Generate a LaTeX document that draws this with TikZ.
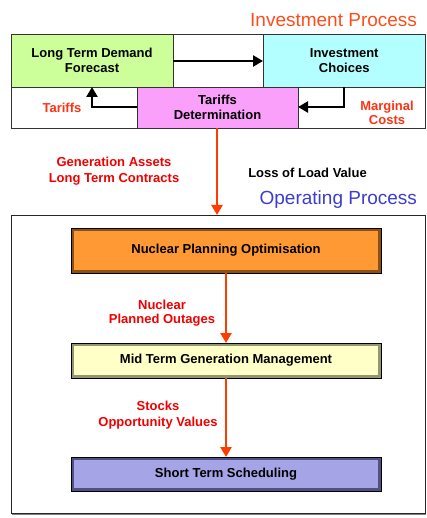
\documentclass[tikz,border=0pt]{standalone}
\usepackage{fontspec}
\setmainfont{Liberation Sans}
\usetikzlibrary{arrows.meta,calc}
\definecolor{cgreen}{RGB}{204,255,153}
\definecolor{ccyan}{RGB}{179,255,255}
\definecolor{cpink}{RGB}{250,160,250}
\definecolor{corange}{RGB}{255,153,51}
\definecolor{corangedk}{RGB}{140,80,20}
\definecolor{cyellow}{RGB}{255,255,200}
\definecolor{cyellowdk}{RGB}{150,150,110}
\definecolor{clav}{RGB}{164,164,230}
\definecolor{clavdk}{RGB}{80,80,130}
\definecolor{ctitle}{RGB}{255,77,26}
\definecolor{clabel}{RGB}{255,50,20}
\definecolor{cblue}{RGB}{60,60,210}
\definecolor{carrow}{RGB}{255,60,0}
\tikzset{
  x=1pt, y=-1pt,
  every node/.style={inner sep=0pt, outer sep=0pt},
  boldtxt/.style={font=\fontsize{13}{15}\selectfont\bfseries, align=center},
  topbox/.style={boldtxt, draw=black!80, line width=0.8pt, anchor=north west},
  opbox/.style 2 args={boldtxt, anchor=north west, minimum width=310pt, fill=#2, draw=black, line width=0.8pt,
    path picture={\fill[#1] ([shift={(2.5,2.5)}]path picture bounding box.north west) rectangle ([shift={(-2.5,-2.5)}]path picture bounding box.south east);
                  \draw[#2, line width=0.6pt] ([shift={(2.5,2.5)}]path picture bounding box.north west) rectangle ([shift={(-2.5,-2.5)}]path picture bounding box.south east);}},
  blackarrow/.style={draw=black, line width=2.6pt, -{Triangle[width=11pt,length=10pt]}},
  redarrow/.style={draw=carrow, line width=2.6pt, -{Triangle[width=11pt,length=10pt]}},
  redlabel/.style={boldtxt, text=clabel},
  title/.style={font=\fontsize{19}{22}\selectfont, anchor=east}
}
\begin{document}
\begin{tikzpicture}
\useasboundingbox (0,0) rectangle (427,518);
% Investment process frame
\node[draw=black!80, line width=0.8pt, anchor=north west, minimum width=414.5pt, minimum height=94pt] (invframe) at (11,34) {};
\node[topbox, fill=cgreen, minimum width=162pt, minimum height=53pt] (ltdf) at (11,34) {Long Term Demand\\Forecast};
\node[topbox, fill=ccyan, minimum width=162.5pt, minimum height=53pt] (ic) at (263,34) {Investment\\Choices};
\node[topbox, fill=cpink, minimum width=161pt, minimum height=41pt] (td) at (137,87) {Tariffs\\Determination};
\node[title, text=ctitle] (invtitle) at (417,20) {Investment Process};

\draw[blackarrow] (ltdf.east |- 0,61) -- (ic.west |- 0,61);
\coordinate (tcorner) at (92,107);
\draw[blackarrow] (td.west |- tcorner) -- (tcorner) -- (tcorner |- ltdf.south);
\coordinate (mcorner) at (344,107);
\draw[blackarrow] (mcorner |- ic.south) -- (mcorner) -- (td.east |- mcorner);
\node[redlabel] (ltar) at (62,108) {Tariffs};
\node[redlabel, font=\fontsize{13}{14}\selectfont\bfseries] (lmc) at (387,113) {Marginal\\Costs};

% link
\node[redlabel, text=red!95!black, font=\fontsize{13}{16}\selectfont\bfseries] (lgen) at (114,171) {Generation Assets\\Long Term Contracts};
\node[boldtxt] (lloss) at (307.5,173) {Loss of Load Value};

% Operating process frame
\node[draw=black!85, line width=0.8pt, anchor=north west, minimum width=414pt, minimum height=298pt] (opframe) at (11,215) {};
\draw[black!50, line width=1.2pt] (12,514.5) -- (426,514.5);
\node[title, text=cblue] (optitle) at (417,200) {Operating Process};
\draw[redarrow] (td.south -| 217,0) -- (opframe.north -| 217,0);

\node[opbox={corange}{corangedk}, minimum height=45pt] (npo) at (71,228) {Nuclear Planning Optimisation};
\node[opbox={cyellow}{cyellowdk}, minimum height=35pt] (mtgm) at (71,343) {Mid Term Generation Management};
\node[opbox={clav}{clavdk}, minimum height=34pt] (sts) at (71,457) {Short Term Scheduling};

\draw[redarrow] (npo.south -| 226,0) -- (mtgm.north -| 226,0);
\draw[redarrow] (mtgm.south -| 226,0) -- (sts.north -| 226,0);
\node[redlabel, text=red!95!black, font=\fontsize{13}{14.5}\selectfont\bfseries] (lnpo) at (162,313) {Nuclear\\Planned Outages};
\node[redlabel, text=red!95!black, font=\fontsize{13}{16}\selectfont\bfseries] (lsov) at (158,415) {Stocks\\Opportunity Values};
\end{tikzpicture}
\end{document}
